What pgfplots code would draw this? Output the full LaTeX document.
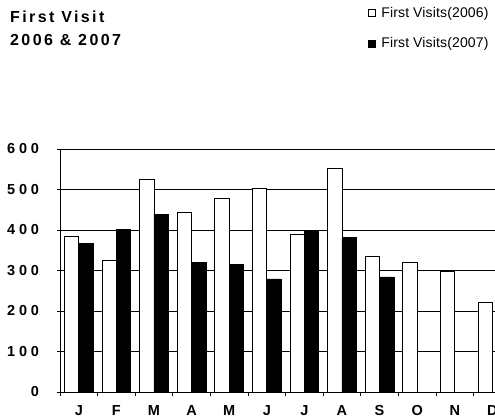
\documentclass[border=0pt]{standalone}
\usepackage{fontspec}
\setmainfont{Liberation Sans}
\newfontfamily\spacedfont[LetterSpace=26]{Liberation Sans}
\newfontfamily\titlefont[LetterSpace=15]{Liberation Sans}
\newfontfamily\legfont[LetterSpace=1]{Liberation Sans}
\usepackage{pgfplots}
\pgfplotsset{compat=1.18}
\begin{document}
\begin{tikzpicture}[x=1pt,y=1pt]
\begin{axis}[
  at={(60pt,27pt)}, anchor=south west,
  scale only axis, width=435pt, height=243pt,
  ybar=0pt, bar width=14.4pt,
  xmin=-0.5, xmax=11.07, ymin=0, ymax=600,
  axis x line*=bottom, axis y line*=left,
  axis line style={black, line width=0.8pt, -},
  xtick={0,...,11},
  xticklabels={J,F,M,A,M,J,J,A,S,O,N,D},
  minor xtick={-0.5,0.5,...,10.5},
  major x tick style={draw=none},
  minor tick length=4pt,
  major tick length=3.5pt,
  tick align=outside,
  tick style={black, line width=0.8pt},
  ytick={0,100,...,600},
  ymajorgrids, grid style={black, line width=0.8pt},
  /pgf/number format/assume math mode=true,
  yticklabel style={font=\spacedfont\bfseries\fontsize{14.5}{15}\selectfont, xshift=-14pt},
  xticklabel style={font=\bfseries\fontsize{14.5}{15}\selectfont, yshift=-6pt},
  clip=true,
  legend style={at={(0.707,1.585)}, anchor=north west, draw=none, fill=none,
    font=\legfont\fontsize{14}{15}\selectfont, inner sep=0pt,
    row sep=19pt, legend cell align=left,
    nodes={inner xsep=6pt, inner ysep=0pt}},
  legend image code/.code={\draw[#1] (0pt,-3.5pt) rectangle (7pt,3.5pt);},
]
\addplot[draw=black, fill=white, line width=0.7pt] coordinates {
 (0,385) (1,324) (2,525) (3,443) (4,479) (5,504) (6,390) (7,551) (8,335) (9,319) (10,298) (11,222)};
\addlegendentry{First Visits(2006)}
\addplot[draw=black, fill=black, line width=0.7pt] coordinates {
 (0,366) (1,402) (2,438) (3,319) (4,314) (5,279) (6,396) (7,381) (8,284)};
\addlegendentry{First Visits(2007)}
\end{axis}
\node[anchor=base west, inner sep=0pt, font=\titlefont\bfseries\fontsize{16}{17}\selectfont] at (10pt,396.3pt) {First Visit};
\node[anchor=base west, inner sep=0pt, font=\titlefont\bfseries\fontsize{16}{17}\selectfont] at (10pt,373.3pt) {2006 \& 2007};
\pgfresetboundingbox
\useasboundingbox (0,0) rectangle (495pt,419pt);
\end{tikzpicture}
\end{document}
